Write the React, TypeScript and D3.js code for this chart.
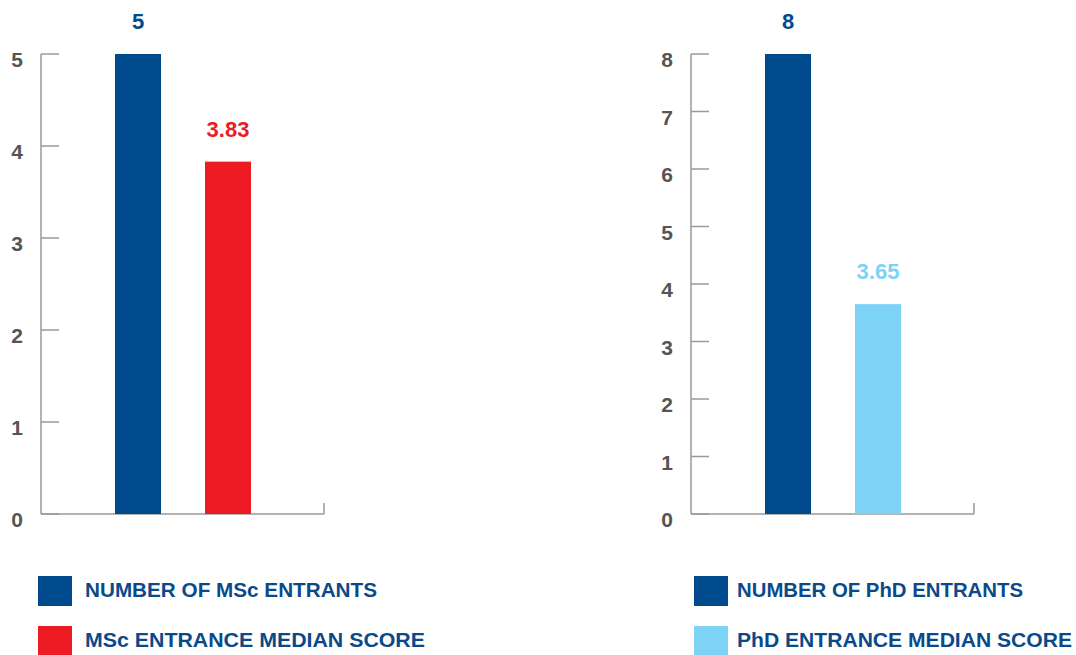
import React from "react";
import * as d3 from "d3";

const mscCategories = ["NUMBER OF MSc ENTRANTS", "MSc ENTRANCE MEDIAN SCORE"];
const mscValues = [5, 3.83];
const mscLabels = ["5", "3.83"];
const mscColors = ["#004b8d", "#ed1c24"];
const mscTicks = [0, 1, 2, 3, 4, 5];

const phdCategories = ["NUMBER OF PhD ENTRANTS", "PhD ENTRANCE MEDIAN SCORE"];
const phdValues = [8, 3.65];
const phdLabels = ["8", "3.65"];
const phdColors = ["#004b8d", "#7dd3f5"];
const phdTicks = [0, 1, 2, 3, 4, 5, 6, 7, 8];

const FONT = "'Liberation Sans', Arial, sans-serif";

type PanelProps = {
  categories: string[];
  values: number[];
  labels: string[];
  colors: string[];
  ticks: number[];
  axisX: number;
  axisRight: number;
  bandRange: [number, number];
  legendX: number;
  legendTextX: number;
  legendWidths: number[];
};

function Panel(p: PanelProps) {
  const y = d3.scaleLinear().domain([0, d3.max(p.ticks) as number]).range([514, 54]);
  const x = d3
    .scaleBand<string>()
    .domain(p.categories)
    .range(p.bandRange)
    .paddingInner(1 - 46 / 90)
    .paddingOuter(0.5);
  const base = y(0);
  const legendY = [576, 626];
  return (
    <g>
      <line x1={p.axisX} x2={p.axisX} y1={y(p.ticks[p.ticks.length - 1])} y2={base} stroke="#9a9a9a" strokeWidth={1.5} />
      <line x1={p.axisX} x2={p.axisRight} y1={base} y2={base} stroke="#9a9a9a" strokeWidth={1.5} />
      <line x1={p.axisRight} x2={p.axisRight} y1={base - 11} y2={base} stroke="#9a9a9a" strokeWidth={1.5} />
      {p.ticks.map((t) => (
        <g key={t}>
          <line x1={p.axisX} x2={p.axisX + 18} y1={y(t)} y2={y(t)} stroke="#9a9a9a" strokeWidth={1.5} />
          <text
            x={p.axisX - 24}
            y={y(t) + 13}
            textAnchor="middle"
            fontFamily={FONT}
            fontWeight="bold"
            fontSize={21}
            fill="#555555"
          >
            {t}
          </text>
        </g>
      ))}
      {p.categories.map((c, i) => {
        const bx = x(c) as number;
        const bw = x.bandwidth();
        return (
          <g key={c}>
            <rect x={bx} y={y(p.values[i])} width={bw} height={base - y(p.values[i])} fill={p.colors[i]} />
            <text
              x={bx + bw / 2}
              y={y(p.values[i]) - 25}
              textAnchor="middle"
              fontFamily={FONT}
              fontWeight="bold"
              fontSize={22}
              fill={p.colors[i]}
            >
              {p.labels[i]}
            </text>
          </g>
        );
      })}
      {p.categories.map((c, i) => (
        <g key={"lg" + c}>
          <rect x={p.legendX} y={legendY[i]} width={34} height={30} fill={p.colors[i]} />
          <text
            x={p.legendTextX}
            y={legendY[i] + 21}
            fontFamily={FONT}
            fontWeight="bold"
            fontSize={20}
            fill="#0a4a8a"
            textLength={p.legendWidths[i]}
            lengthAdjust="spacingAndGlyphs"
          >
            {c}
          </text>
        </g>
      ))}
    </g>
  );
}

export default function App() {
  return (
    <svg
      width={1076}
      height={655}
      style={{ position: "absolute", left: 0, top: 0, background: "#ffffff" }}
    >
      <Panel
        categories={mscCategories}
        values={mscValues}
        labels={mscLabels}
        colors={mscColors}
        ticks={mscTicks}
        axisX={41}
        axisRight={324}
        bandRange={[70, 296]}
        legendX={38}
        legendTextX={85}
        legendWidths={[292, 340]}
      />
      <Panel
        categories={phdCategories}
        values={phdValues}
        labels={phdLabels}
        colors={phdColors}
        ticks={phdTicks}
        axisX={691}
        axisRight={974}
        bandRange={[720, 946]}
        legendX={694}
        legendTextX={737}
        legendWidths={[286, 335]}
      />
    </svg>
  );
}
